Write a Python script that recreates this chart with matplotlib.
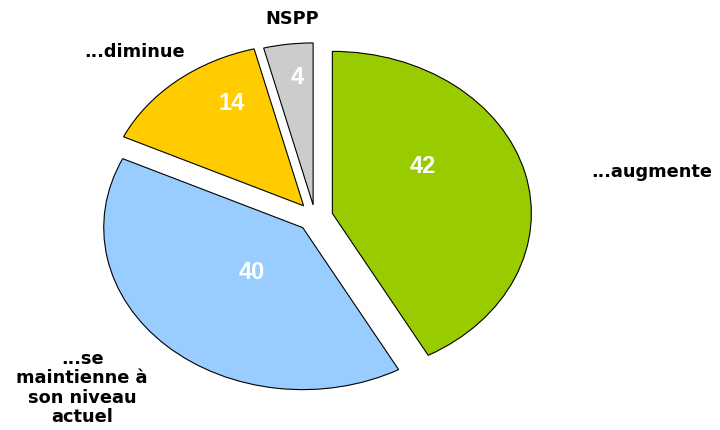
import matplotlib.pyplot as plt

plt.rcParams['font.family'] = ['Liberation Sans', 'DejaVu Sans']

labels = ["...augmente", "...se\nmaintienne à\nson niveau\nactuel", "...diminue", "NSPP"]
values = [42, 40, 14, 4]
colors = ["#99CC00", "#99CCFF", "#FFCC00", "#CCCCCC"]
explode = [0.09, 0.09, 0.09, 0.075]

# where the texts sit (axes data units, pie radius = 1)
num_pos = [(0.54, 0.31), (-0.32, -0.34), (-0.42, 0.70), (-0.09, 0.86)]
lab_pos = [(1.39, 0.28), (-1.17, -1.055), (-0.905, 1.02), (-0.115, 1.225)]
lab_ha = ["left", "center", "center", "center"]

fig = plt.figure(figsize=(7.2, 4.3), dpi=100)
ax = fig.add_axes([116/720, 51/430, 398/720, 324/430])

wedges, _ = ax.pie(values, colors=colors, startangle=90, counterclock=False,
                   explode=explode,
                   wedgeprops=dict(edgecolor="black", linewidth=0.8, clip_on=False))
ax.set_aspect("auto")
ax.set_xlim(-1, 1)
ax.set_ylim(-1, 1)
ax.axis("off")

for v, (x, y) in zip(values, num_pos):
    ax.text(x, y, str(v), color="white", fontsize=17, fontweight="bold",
            ha="center", va="center")

# labels have wide tracking in the original, DejaVu bold gets the width close
for lab, (x, y), ha in zip(labels, lab_pos, lab_ha):
    ax.text(x, y, lab, fontsize=12.8, fontweight="bold", ha=ha, va="center",
            family="DejaVu Sans", multialignment="center", linespacing=1.1,
            clip_on=False)

fig.savefig("out.png", dpi=100)
